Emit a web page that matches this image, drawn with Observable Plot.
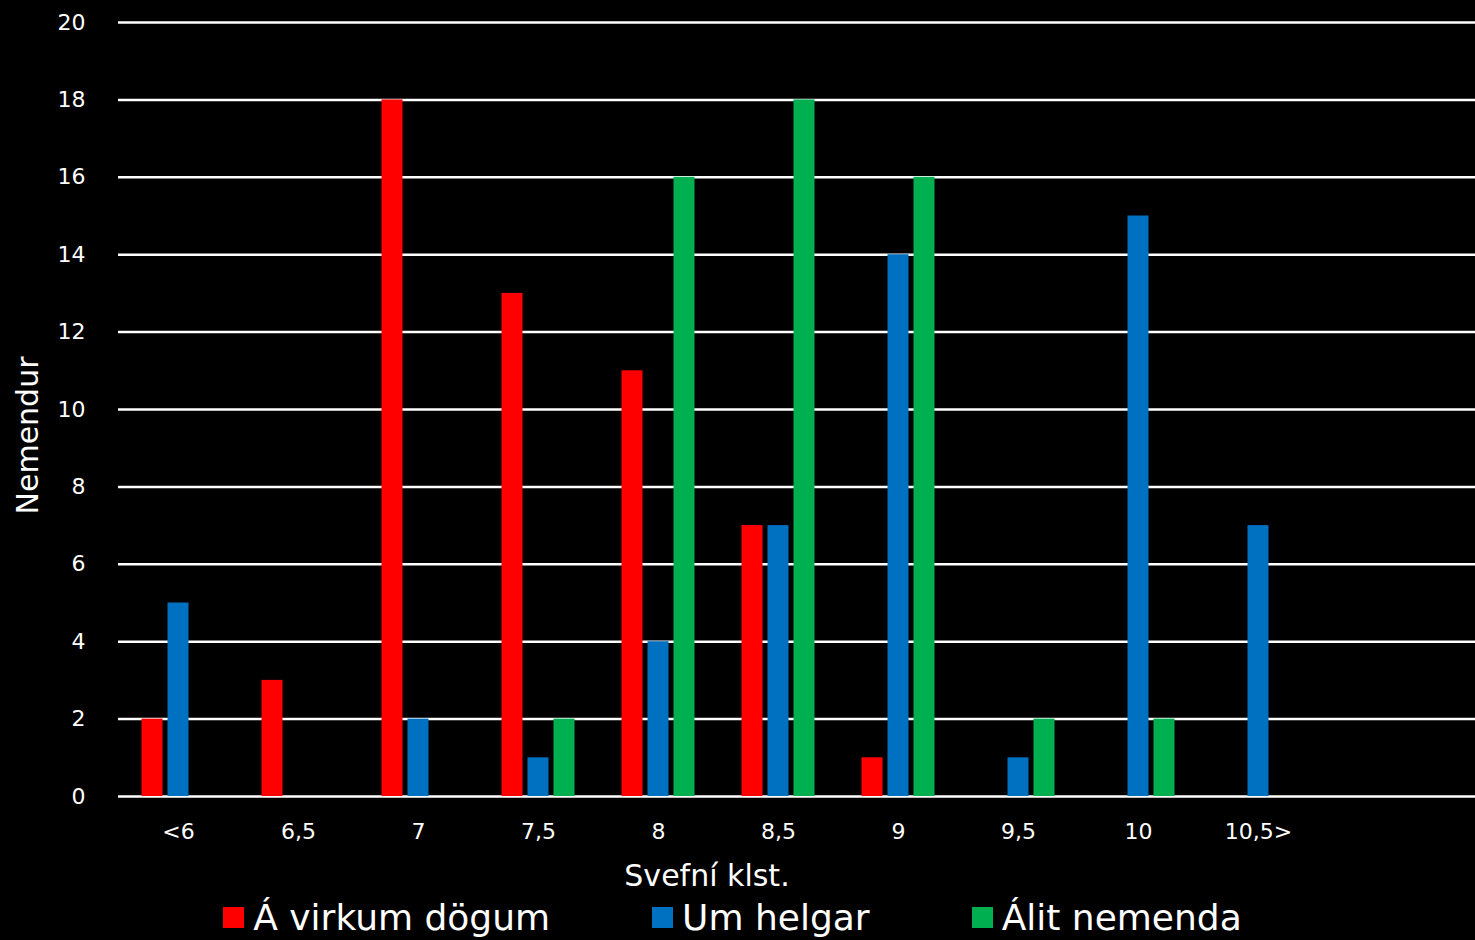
<!DOCTYPE html>
<html><head><meta charset="utf-8">
<script src="https://cdn.jsdelivr.net/npm/d3@7"></script>
<script src="https://cdn.jsdelivr.net/npm/@observablehq/plot@0.6"></script>
<style>
html,body{margin:0;padding:0;background:#000;width:1475px;height:940px;overflow:hidden;font-family:"DejaVu Sans",sans-serif;color:#fff}
#legend{display:flex;justify-content:center;align-items:center;gap:102px;height:45px;font-size:36px;line-height:45px;padding-right:10px}
#legend .item{display:flex;align-items:center}
#legend .sw{width:21px;height:21px;margin-right:9px}
</style></head><body><div id="chart"></div><div id="legend"></div>
<script>
const categories = ["<6","6,5","7","7,5","8","8,5","9","9,5","10","10,5>"];
const seriesNames = ["Á virkum dögum","Um helgar","Álit nemenda"];
const weekdays = [2,3,18,13,11,7,1,0,0,0];
const weekends = [5,0,2,1,4,7,14,1,15,7];
const opinion  = [0,0,0,2,16,18,16,2,2,0];
const colors = ["#FF0000","#0070C0","#00B050"];
const yTicks = [0,2,4,6,8,10,12,14,16,18,20];
const xLabel = "Svefní klst.";
const yLabel = "Nemendur";

const seriesValues = [weekdays, weekends, opinion];
const offsets = [-26, 0, 26];
const barMarks = seriesValues.map((vals, si) =>
  Plot.barY(
    categories.map((c, i) => ({cat: c, value: vals[i], series: seriesNames[si]})).filter(d => d.value > 0),
    {x: "cat", y: "value", fill: colors[si], dx: offsets[si], insetLeft: 49.5, insetRight: 49.5}
  )
);

const chart = Plot.plot({
  width: 1475, height: 895,
  marginLeft: 118, marginRight: 0, marginTop: 22, marginBottom: 99,
  style: {background: "#000", color: "#fff", fontFamily: "DejaVu Sans, sans-serif", fontSize: "22px", overflow: "visible"},
  x: {domain: categories, range: [118, 1318], padding: 0},
  y: {domain: [0, 20]},
  marks: [
    Plot.ruleY(yTicks, {stroke: "#fff", strokeWidth: 2.5}),
    ...barMarks,
    Plot.axisY({ticks: yTicks, tickSize: 0, tickPadding: 33, fontSize: 22, label: null}),
    Plot.axisX({tickSize: 0, tickPadding: 27, fontSize: 22, label: null}),
    Plot.text([xLabel], {frameAnchor: "bottom", dx: -90, dy: 89, fontSize: 30, fill: "#fff"}),
    Plot.text([yLabel], {frameAnchor: "left", textAnchor: "middle", dx: -90, dy: 26, rotate: -90, fontSize: 30, fill: "#fff"})
  ]
});
document.getElementById("chart").appendChild(chart);

const legend = document.getElementById("legend");
seriesNames.forEach((n, i) => {
  const it = document.createElement("div"); it.className = "item";
  const sw = document.createElement("div"); sw.className = "sw"; sw.style.background = colors[i];
  const tx = document.createElement("span"); tx.textContent = n;
  it.appendChild(sw); it.appendChild(tx); legend.appendChild(it);
});
</script></body></html>
